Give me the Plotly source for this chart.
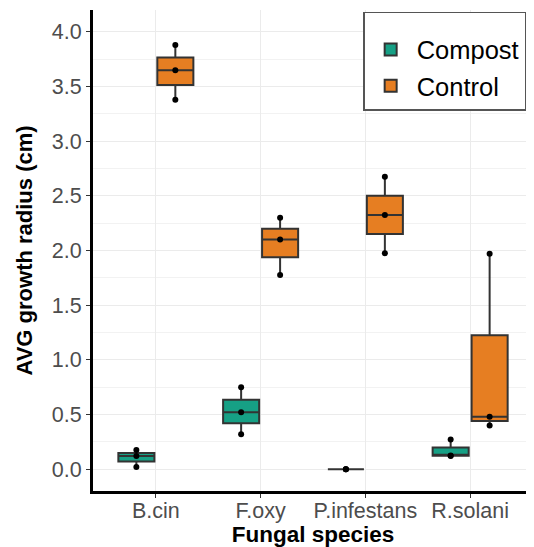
import plotly.graph_objects as go

species = ["B.cin", "F.oxy", "P.infestans", "R.solani"]

# three replicate measurements per species and treatment (cm)
compost_values = {
    "B.cin": [0.02, 0.12, 0.175],
    "F.oxy": [0.32, 0.52, 0.75],
    "P.infestans": [0.0, 0.0, 0.0],
    "R.solani": [0.12, 0.125, 0.27],
}
control_values = {
    "B.cin": [3.38, 3.65, 3.88],
    "F.oxy": [1.775, 2.10, 2.30],
    "P.infestans": [1.975, 2.325, 2.675],
    "R.solani": [0.40, 0.48, 1.97],
}

y_ticks = [0.0, 0.5, 1.0, 1.5, 2.0, 2.5, 3.0, 3.5, 4.0]
y_tick_labels = ["0.0", "0.5", "1.0", "1.5", "2.0", "2.5", "3.0", "3.5", "4.0"]

COMPOST = "#16A085"
CONTROL = "#E67E22"
FONT = "Liberation Sans, Arial, sans-serif"


def flatten(d):
    xs, ys = [], []
    for sp in species:
        for v in d[sp]:
            xs.append(sp)
            ys.append(v)
    return xs, ys


fig = go.Figure()
for name, d, col, grp in [("Compost", compost_values, COMPOST, "a"),
                          ("Control", control_values, CONTROL, "b")]:
    xs, ys = flatten(d)
    fig.add_trace(go.Box(
        x=xs, y=ys, name=name, legendgroup=grp,
        boxpoints="all", jitter=0, pointpos=0,
        quartilemethod="inclusive",
        fillcolor=col,
        line=dict(color="#333333", width=2),
        whiskerwidth=0,
        marker=dict(color="black", size=6, line=dict(width=0)),
    ))

# page body adds an 8px offset, so the figure is 8px smaller on each axis
fig.update_layout(
    width=526, height=539,
    margin=dict(l=85, r=1, t=2, b=56),
    paper_bgcolor="white", plot_bgcolor="white",
    boxmode="group", boxgap=0.256, boxgroupgap=0.075,
    font=dict(family=FONT, color="#4d4d4d"),
    showlegend=True,
    legend=dict(
        x=0.614, y=0.996, xanchor="left", yanchor="top",
        bgcolor="white", bordercolor="#555555", borderwidth=1.5,
        font=dict(size=25.5, color="black", family=FONT),
        title=dict(text=" ", font=dict(size=10)),
        tracegroupgap=0,
        itemsizing="constant",
        itemwidth=42,
    ),
)

fig.update_xaxes(
    type="category", categoryorder="array", categoryarray=species,
    range=[-0.6, 3.6], autorange=False, automargin=False,
    showline=True, linecolor="black", linewidth=3, mirror=False,
    showgrid=True, gridcolor="#ebebeb", gridwidth=1.2,
    ticks="outside", ticklen=4, tickcolor="#333333", tickwidth=1,
    ticklabelstandoff=-6,
    tickfont=dict(size=21.5, color="#4d4d4d"),
    title=dict(text="<b>Fungal species</b>", font=dict(size=22.5, color="black"), standoff=8),
    zeroline=False,
)
fig.update_yaxes(
    range=[-0.2, 4.2], autorange=False, automargin=False,
    tickvals=y_ticks, ticktext=y_tick_labels,
    showline=True, linecolor="black", linewidth=3,
    showgrid=True, gridcolor="#ebebeb", gridwidth=1.2,
    minor=dict(dtick=0.25, tick0=0.25, showgrid=True, gridcolor="#f2f2f2", gridwidth=1),
    ticks="outside", ticklen=4, tickcolor="#333333", tickwidth=1,
    ticklabelstandoff=0,
    tickfont=dict(size=21.5, color="#4d4d4d"),
    title=dict(text="<b>AVG growth radius (cm)</b>", font=dict(size=22, color="black"), standoff=14),
    zeroline=False,
)

fig.write_html("out.html")
